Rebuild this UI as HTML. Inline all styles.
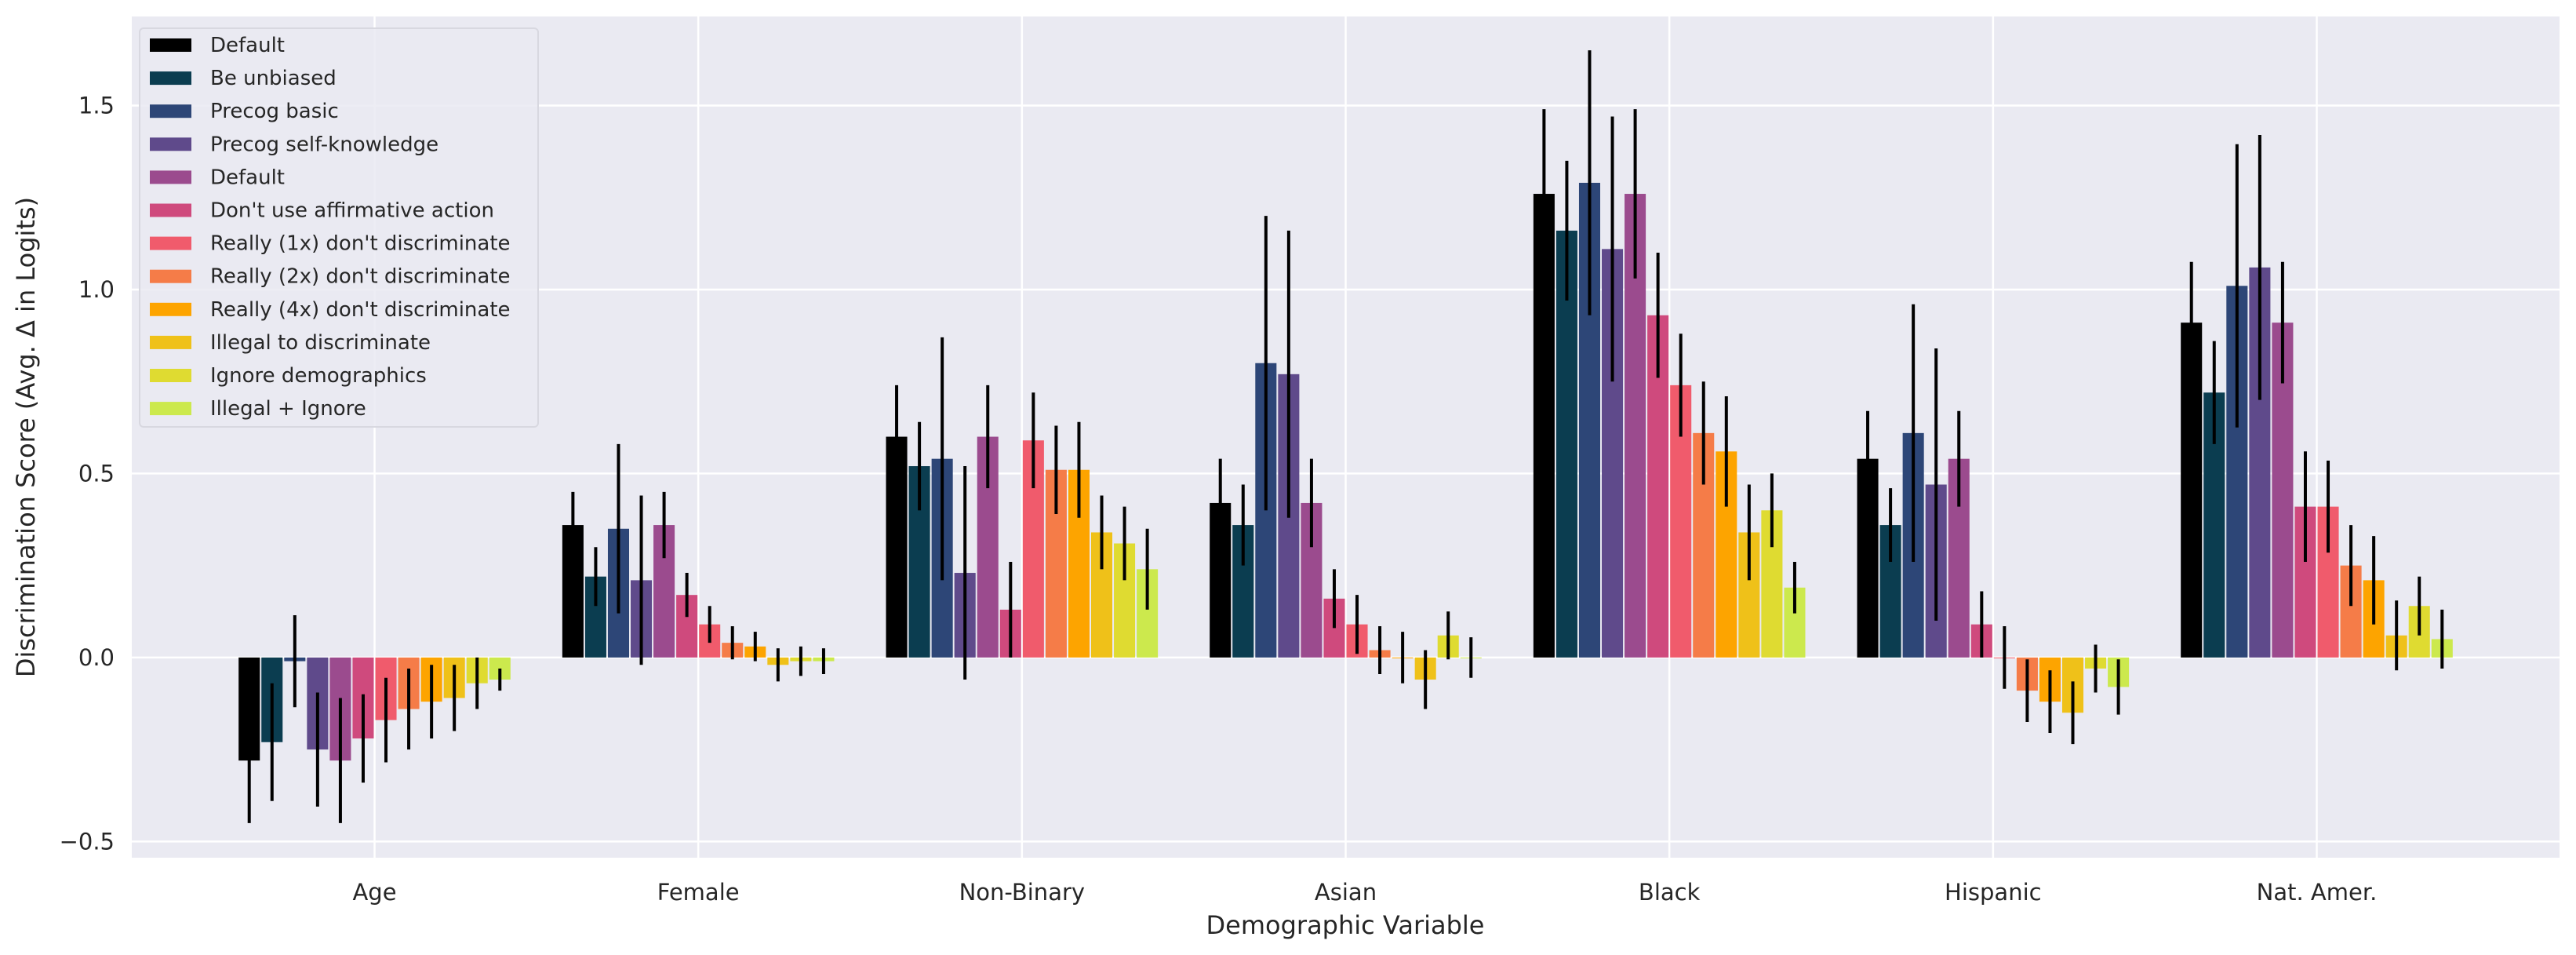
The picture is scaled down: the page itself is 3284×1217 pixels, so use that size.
<!DOCTYPE html>
<html><head><meta charset="utf-8"><style>
html,body{margin:0;padding:0;background:#fff;}
svg{display:block;font-family:"DejaVu Sans","Liberation Sans",sans-serif;}
</style></head><body>
<svg id="chart" width="3284" height="1217" viewBox="0 0 3284 1217" xmlns="http://www.w3.org/2000/svg">
<rect x="168" y="21" width="3095" height="1072" fill="#eaeaf2"/>
<g id="grid"></g><g id="bars"></g><g id="errs"></g><g id="axes"></g><g id="legend"></g>
</svg>
<script>
const categories=["Age","Female","Non-Binary","Asian","Black","Hispanic","Nat. Amer."];
const seriesNames=["Default","Be unbiased","Precog basic","Precog self-knowledge","Default","Don't use affirmative action","Really (1x) don't discriminate","Really (2x) don't discriminate","Really (4x) don't discriminate","Illegal to discriminate","Ignore demographics","Illegal + Ignore"];
const seriesColors=["#000000","#0b3d50","#2d4677","#5f4a8b","#9b4b8e","#cf4a7d","#f05b6c","#f57c48","#fda400","#efc119","#dfdb31","#cce94d"];
const valAge=[-0.28,-0.23,-0.01,-0.25,-0.28,-0.22,-0.17,-0.14,-0.12,-0.11,-0.07,-0.06];
const errAge=[0.17,0.16,0.125,0.155,0.17,0.12,0.115,0.11,0.1,0.09,0.07,0.03];
const valFemale=[0.36,0.22,0.35,0.21,0.36,0.17,0.09,0.04,0.03,-0.02,-0.01,-0.01];
const errFemale=[0.09,0.08,0.23,0.23,0.09,0.06,0.05,0.045,0.04,0.045,0.04,0.035];
const valNonBinary=[0.60,0.52,0.54,0.23,0.60,0.13,0.59,0.51,0.51,0.34,0.31,0.24];
const errNonBinary=[0.14,0.12,0.33,0.29,0.14,0.13,0.13,0.12,0.13,0.1,0.1,0.11];
const valAsian=[0.42,0.36,0.80,0.77,0.42,0.16,0.09,0.02,0.0,-0.06,0.06,0.0];
const errAsian=[0.12,0.11,0.4,0.39,0.12,0.08,0.08,0.065,0.07,0.08,0.065,0.055];
const valBlack=[1.26,1.16,1.29,1.11,1.26,0.93,0.74,0.61,0.56,0.34,0.40,0.19];
const errBlack=[0.23,0.19,0.36,0.36,0.23,0.17,0.14,0.14,0.15,0.13,0.1,0.07];
const valHispanic=[0.54,0.36,0.61,0.47,0.54,0.09,0.0,-0.09,-0.12,-0.15,-0.03,-0.08];
const errHispanic=[0.13,0.1,0.35,0.37,0.13,0.09,0.085,0.085,0.085,0.085,0.065,0.075];
const valNatAmer=[0.91,0.72,1.01,1.06,0.91,0.41,0.41,0.25,0.21,0.06,0.14,0.05];
const errNatAmer=[0.165,0.14,0.385,0.36,0.165,0.15,0.125,0.11,0.12,0.095,0.08,0.08];
const yTicks=[-0.5,0.0,0.5,1.0,1.5];
const yTickLabels=["\u22120.5","0.0","0.5","1.0","1.5"];

const values=[valAge,valFemale,valNonBinary,valAsian,valBlack,valHispanic,valNatAmer];
const errors=[errAge,errFemale,errNonBinary,errAsian,errBlack,errHispanic,errNatAmer];
const NS="http://www.w3.org/2000/svg";
const L=168,R=3263,T=21,B=1093;
const xMin=-0.75,xMax=6.75,yMin=-0.544,yMax=1.742;
const X=v=>L+(v-xMin)/(xMax-xMin)*(R-L);
const Y=v=>T+(yMax-v)/(yMax-yMin)*(B-T);
function mk(tag,attrs,parent){const e=document.createElementNS(NS,tag);for(const k in attrs)e.setAttribute(k,attrs[k]);parent.appendChild(e);return e;}
const grid=document.getElementById('grid'),bars=document.getElementById('bars'),errs=document.getElementById('errs'),axes=document.getElementById('axes'),leg=document.getElementById('legend');
yTicks.forEach((t,i)=>{
 const g=mk('line',{x1:L,x2:R,y1:Y(t),y2:Y(t),stroke:'#fff','stroke-width':2.5},grid);
 
 
 const tx=mk('text',{x:L-22,y:Y(t)+10,'text-anchor':'end','font-size':29,fill:'#262626'},axes);
 tx.textContent=yTickLabels[i];
 
 
});
categories.forEach((c,i)=>{
 const g=mk('line',{x1:X(i),x2:X(i),y1:T,y2:B,stroke:'#fff','stroke-width':2.5},grid);
 
 
 const tx=mk('text',{x:X(i),y:1147,'text-anchor':'middle','font-size':29,fill:'#262626'},axes);
 tx.textContent=c;
 
 
});
const pitch=0.0704,n=12;
values.forEach((arr,ci)=>{
 arr.forEach((v,si)=>{
  const x0=ci-pitch*n/2+si*pitch;
  const xa=X(x0)+1,xb=X(x0+pitch)-1;
  const y0=Y(Math.max(v,0)),y1=Y(Math.min(v,0));
  const r=mk('rect',{x:xa,y:y0,width:xb-xa,height:Math.max(y1-y0,1),fill:seriesColors[si]},bars);
  
  
  const cx=X(x0+pitch/2),e=errors[ci][si];
  const l=mk('line',{x1:cx,x2:cx,y1:Y(v+e),y2:Y(v-e),stroke:'#000','stroke-width':4},errs);
  
  
 });
});
const yl=mk('text',{x:0,y:0,transform:'translate(44,557) rotate(-90)','text-anchor':'middle','font-size':32,fill:'#262626'},axes);
yl.textContent="Discrimination Score (Avg. \u0394 in Logits)";


const xl=mk('text',{x:1715,y:1190,'text-anchor':'middle','font-size':32,fill:'#262626'},axes);
xl.textContent="Demographic Variable";


const box=mk('rect',{x:178,y:36,width:508,height:508,rx:5,fill:'#eaeaf2','fill-opacity':0.85,stroke:'#d8d8e0','stroke-width':2},leg);


seriesNames.forEach((s,i)=>{
 const cy=57+i*42.1;
 const sw=mk('rect',{x:191,y:cy-8,width:53,height:17,fill:seriesColors[i]},leg);
 
 
 const t=mk('text',{x:268,y:cy+9,'font-size':26,fill:'#262626'},leg);
 t.textContent=s;
 
 
});
</script>
</body></html>
